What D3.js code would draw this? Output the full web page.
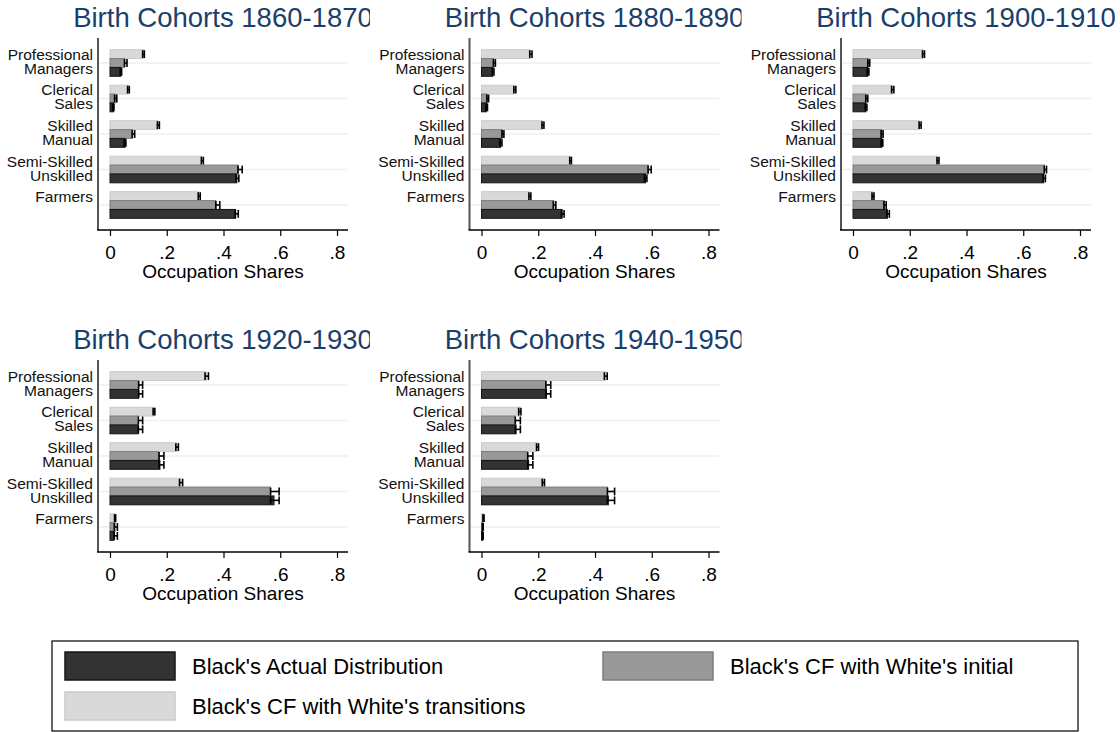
<!DOCTYPE html>
<html>
<head>
<meta charset="utf-8">
<script src="https://cdn.jsdelivr.net/npm/d3@7"></script>
<style>
  body { margin: 0; background: #fff; }
  text { font-family: "Liberation Sans", Arial, Helvetica, sans-serif; }
</style>
</head>
<body>
<div id="chart"></div>
<script>

// Panels, categories and series
var cohorts = ["1860-1870", "1880-1890", "1900-1910", "1920-1930", "1940-1950"];
var categories = [["Professional", "Managers"], ["Clerical", "Sales"], ["Skilled", "Manual"],
                  ["Semi-Skilled", "Unskilled"], ["Farmers", ""]];
var seriesNames = ["Black's Actual Distribution", "Black's CF with White's initial", "Black's CF with White's transitions"];
var xTicks = [0, 0.2, 0.4, 0.6, 0.8];

// Black's actual distribution (dark bars), [cohort][category]
var actualShare = [
  [0.038, 0.012, 0.053, 0.447, 0.443],
  [0.040, 0.017, 0.067, 0.578, 0.284],
  [0.052, 0.045, 0.101, 0.672, 0.121],
  [0.101, 0.100, 0.176, 0.578, 0.014],
  [0.229, 0.122, 0.166, 0.447, 0.004]
];
var actualLo = [
  [0.036, 0.009, 0.050, 0.444, 0.441],
  [0.038, 0.015, 0.065, 0.574, 0.282],
  [0.050, 0.043, 0.099, 0.670, 0.119],
  [0.101, 0.100, 0.173, 0.566, 0.015],
  [0.227, 0.119, 0.163, 0.444, 0.003]
];
var actualHi = [
  [0.041, 0.014, 0.056, 0.454, 0.452],
  [0.044, 0.021, 0.072, 0.583, 0.291],
  [0.056, 0.049, 0.105, 0.678, 0.128],
  [0.115, 0.115, 0.190, 0.596, 0.026],
  [0.244, 0.137, 0.181, 0.469, 0.006]
];

// Counterfactual with White's initial distribution (mid grey bars)
var initialShare = [
  [0.052, 0.019, 0.080, 0.452, 0.373],
  [0.044, 0.020, 0.073, 0.588, 0.255],
  [0.055, 0.046, 0.102, 0.675, 0.111],
  [0.101, 0.100, 0.171, 0.565, 0.018],
  [0.226, 0.118, 0.161, 0.444, 0.004]
];
var initialLo = [
  [0.051, 0.016, 0.078, 0.451, 0.373],
  [0.042, 0.019, 0.072, 0.587, 0.253],
  [0.052, 0.045, 0.099, 0.674, 0.109],
  [0.101, 0.100, 0.173, 0.566, 0.015],
  [0.227, 0.119, 0.163, 0.444, 0.003]
];
var initialHi = [
  [0.060, 0.024, 0.087, 0.466, 0.387],
  [0.049, 0.025, 0.079, 0.598, 0.262],
  [0.059, 0.052, 0.106, 0.682, 0.117],
  [0.115, 0.115, 0.190, 0.596, 0.026],
  [0.244, 0.137, 0.181, 0.469, 0.006]
];

// Counterfactual with White's transitions (light grey bars)
var transShare = [
  [0.118, 0.064, 0.170, 0.324, 0.313],
  [0.172, 0.116, 0.215, 0.314, 0.169],
  [0.247, 0.139, 0.234, 0.298, 0.070],
  [0.340, 0.155, 0.236, 0.250, 0.018],
  [0.437, 0.135, 0.197, 0.218, 0.007]
];
var transLo = [
  [0.115, 0.062, 0.167, 0.322, 0.311],
  [0.170, 0.114, 0.213, 0.311, 0.167],
  [0.245, 0.136, 0.233, 0.296, 0.067],
  [0.335, 0.152, 0.232, 0.245, 0.016],
  [0.433, 0.131, 0.194, 0.214, 0.005]
];
var transHi = [
  [0.121, 0.068, 0.174, 0.329, 0.318],
  [0.178, 0.121, 0.220, 0.317, 0.174],
  [0.252, 0.144, 0.240, 0.303, 0.074],
  [0.347, 0.158, 0.241, 0.256, 0.020],
  [0.443, 0.139, 0.201, 0.222, 0.009]
];

// bars drawn top to bottom inside each category
var series = [
  { name: seriesNames[2], val: transShare, lo: transLo, hi: transHi, fill: "#d9d9d9", stroke: "#cacaca" },
  { name: seriesNames[1], val: initialShare, lo: initialLo, hi: initialHi, fill: "#999999", stroke: "#7d7d7d" },
  { name: seriesNames[0], val: actualShare, lo: actualLo, hi: actualHi, fill: "#333333", stroke: "#141414" }
];

var W = 1120, H = 732;
var svg = d3.select("#chart").append("svg")
    .attr("width", W)
    .attr("height", H);

svg.append("rect").attr("width", W).attr("height", H).attr("fill", "#fff");

// panel geometry (relative to panel origin)
var colX = [0, 371.5, 743], rowY = [0, 322];
var plotLeft = 98, plotRight = 348, plotTop = 38, plotBottom = 230;

var x = d3.scaleLinear().domain([0, 0.8]).range([110, 337]);
var y = d3.scalePoint().domain(d3.range(categories.length))
    .range([plotTop, plotBottom]).padding(0.704);
var sub = d3.scaleBand().domain(d3.range(series.length)).range([-13.3, 13.3]);

var tickFmt = function (d) { return d === 0 ? "0" : d3.format(".1f")(d).replace(/^0/, ""); };

cohorts.forEach(function (cohort, c) {
  var ox = colX[c % 3], oy = rowY[Math.floor(c / 3)];
  var g = svg.append("g").attr("transform", "translate(" + ox + "," + oy + ")");

  // clip for the title (cut at the panel edge)
  var clipId = "clip" + c;
  svg.append("clipPath").attr("id", clipId)
    .append("rect").attr("x", ox).attr("y", oy).attr("width", c % 3 === 2 ? 372 : 370).attr("height", 40);

  svg.append("g").attr("clip-path", "url(#" + clipId + ")")
    .append("text")
    .attr("x", ox + (plotLeft + plotRight) / 2)
    .attr("y", oy + 27)
    .attr("text-anchor", "middle")
    .style("font-size", "27.5px")
    .style("fill", "#1a3f6b")
    .text("Birth Cohorts " + cohort);

  // grid lines
  g.selectAll(".grid")
    .data(categories)
    .enter().append("line")
    .attr("x1", plotLeft).attr("x2", plotRight)
    .attr("y1", function (d, i) { return y(i); })
    .attr("y2", function (d, i) { return y(i); })
    .attr("stroke", "#eaf2f3")
    .attr("stroke-width", 1.5);

  // bars + caps
  series.forEach(function (s, k) {
    var rows = categories.map(function (d, i) {
      return { i: i, v: s.val[c][i], lo: s.lo[c][i], hi: s.hi[c][i] };
    });
    g.selectAll(".bar" + k)
      .data(rows)
      .enter().append("rect")
      .attr("x", x(0))
      .attr("y", function (d) { return y(d.i) + sub(k); })
      .attr("width", function (d) { return x(d.v) - x(0); })
      .attr("height", sub.bandwidth())
      .attr("fill", s.fill)
      .attr("stroke", s.stroke)
      .attr("stroke-width", 1);

    var caps = g.selectAll(".cap" + k).data(rows).enter().append("g")
      .attr("stroke", "#000")
      .attr("stroke-width", 1.6);
    caps.append("line")
      .attr("x1", function (d) { return x(d.lo); })
      .attr("x2", function (d) { return x(d.hi); })
      .attr("y1", function (d) { return y(d.i) + sub(k) + sub.bandwidth() / 2; })
      .attr("y2", function (d) { return y(d.i) + sub(k) + sub.bandwidth() / 2; });
    ["lo", "hi"].forEach(function (key) {
      caps.append("line")
        .attr("x1", function (d) { return x(d[key]); })
        .attr("x2", function (d) { return x(d[key]); })
        .attr("y1", function (d) { return y(d.i) + sub(k) + 0.5; })
        .attr("y2", function (d) { return y(d.i) + sub(k) + sub.bandwidth() - 0.5; });
    });
  });

  // category labels
  var lab = g.selectAll(".lab")
    .data(categories)
    .enter().append("text")
    .attr("text-anchor", "end")
    .style("font-size", "15.5px")
    .style("fill", "#111");
  lab.append("tspan")
    .attr("x", 93)
    .attr("y", function (d, i) { return y(i) - 3; })
    .text(function (d) { return d[0]; });
  lab.append("tspan")
    .attr("x", 93)
    .attr("y", function (d, i) { return y(i) + 11; })
    .text(function (d) { return d[1]; });

  // Y axis line
  g.append("line")
    .attr("x1", plotLeft).attr("x2", plotLeft)
    .attr("y1", plotTop).attr("y2", plotBottom)
    .attr("stroke", "#555").attr("stroke-width", 2);

  // X axis
  var ax = g.append("g")
    .attr("transform", "translate(0," + plotBottom + ")")
    .call(d3.axisBottom(x).tickValues(xTicks).tickFormat(tickFmt).tickSize(6).tickSizeOuter(0));
  ax.select(".domain").remove();
  ax.selectAll(".tick line").attr("stroke", "#000").attr("stroke-width", 1.2);
  ax.selectAll(".tick text")
    .attr("y", 12)
    .attr("dy", "0.9em")
    .style("font-size", "19px")
    .style("font-family", "'Liberation Sans', Arial, sans-serif")
    .style("fill", "#000");
  g.append("line")
    .attr("x1", plotLeft - 1).attr("x2", plotRight)
    .attr("y1", plotBottom).attr("y2", plotBottom)
    .attr("stroke", "#000").attr("stroke-width", 1.5);

  g.append("text")
    .attr("x", (plotLeft + plotRight) / 2)
    .attr("y", 278)
    .attr("text-anchor", "middle")
    .style("font-size", "19px")
    .style("fill", "#000")
    .text("Occupation Shares");
});

// Legend
var leg = svg.append("g");
leg.append("rect")
  .attr("x", 52).attr("y", 641)
  .attr("width", 1026).attr("height", 90)
  .attr("fill", "#fff").attr("stroke", "#000").attr("stroke-width", 1.2);

var legendItems = [
  { s: series[2], x: 65, y: 652 },
  { s: series[1], x: 603, y: 652 },
  { s: series[0], x: 65, y: 692 }
];
legendItems.forEach(function (d) {
  leg.append("rect")
    .attr("x", d.x).attr("y", d.y)
    .attr("width", 110).attr("height", 28)
    .attr("fill", d.s.fill)
    .attr("stroke", d.s.stroke).attr("stroke-width", 1.5);
  leg.append("text")
    .attr("x", d.x + 127)
    .attr("y", d.y + 22)
    .style("font-size", "22px")
    .style("fill", "#000")
    .text(d.s.name);
});

</script>
</body>
</html>
